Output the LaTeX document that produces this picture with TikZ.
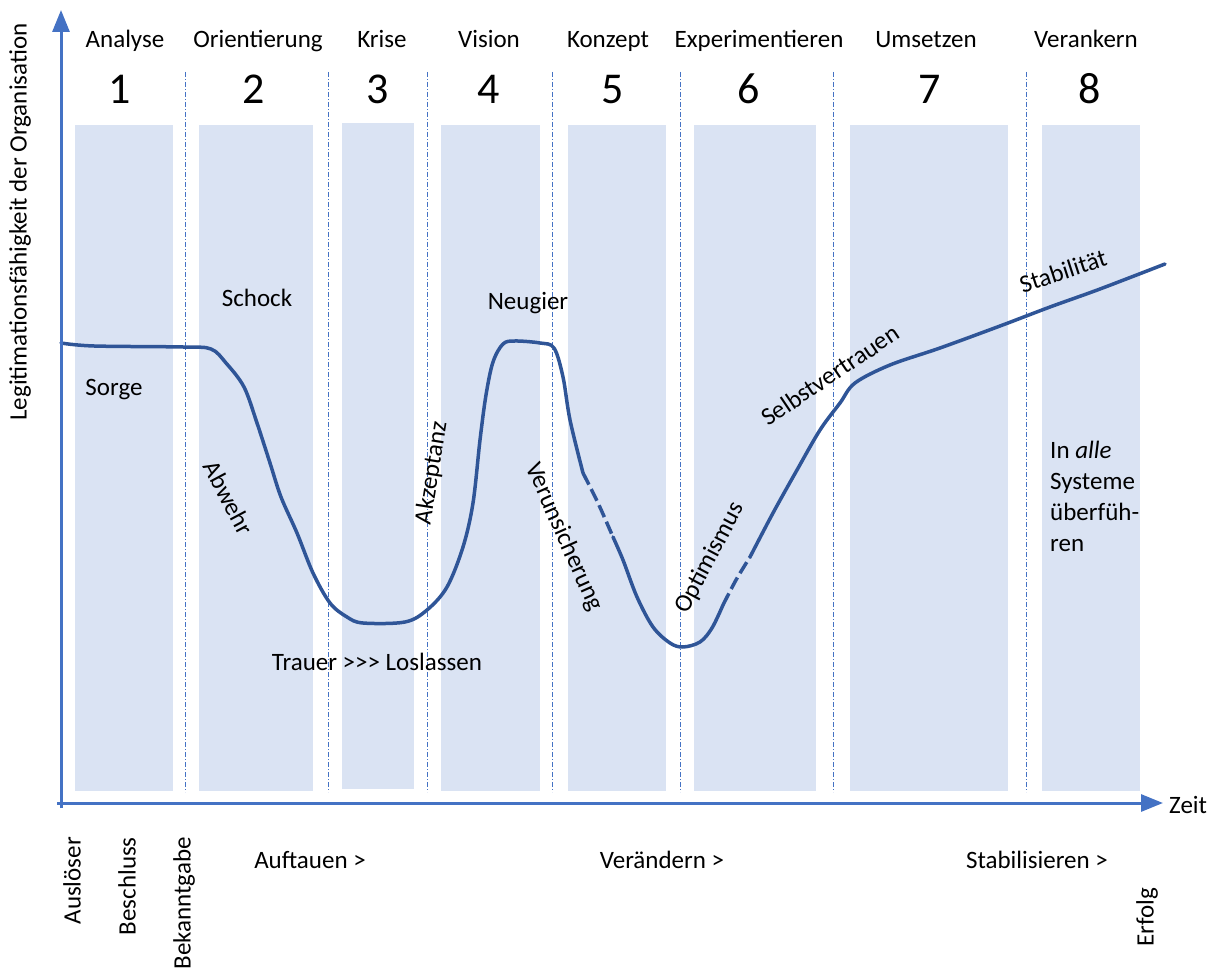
\documentclass[tikz,border=0pt]{standalone}
\usepackage{fontspec}
\setmainfont{Carlito}
\usetikzlibrary{arrows.meta}
\definecolor{barfill}{HTML}{DAE3F3}
\definecolor{axisblue}{HTML}{4472C4}
\definecolor{curveblue}{HTML}{2F5597}
\begin{document}
\begin{tikzpicture}[x=1pt,y=-1pt,
  lbl/.style={inner sep=0pt, font=\fontsize{25}{30}\selectfont, text=black},
  num/.style={inner sep=0pt, font=\fontsize{44}{50}\selectfont, text=black},
  phasebar/.style={fill=barfill, draw=none},
  sep/.style={axisblue, line width=0.9pt, dash pattern=on 5pt off 2pt on 1pt off 2pt},
  axisline/.style={axisblue, line width=3pt, -{Triangle[length=22pt,width=17pt]}},
  curve/.style={curveblue, line width=3.5pt, line cap=round, line join=round},
  dashedcurve/.style={curveblue, line width=3.5pt, dash pattern=on 13pt off 5pt}]
\useasboundingbox (0,0) rectangle (1221,973);

% phase columns
\fill[phasebar] (75,125) rectangle (173,791);
\fill[phasebar] (199,125) rectangle (313,791);
\fill[phasebar] (342,123) rectangle (414,789);
\fill[phasebar] (441,125) rectangle (540,791);
\fill[phasebar] (568,125) rectangle (666,791);
\fill[phasebar] (694,125) rectangle (816,791);
\fill[phasebar] (850,125) rectangle (1008,791);
\fill[phasebar] (1042,125) rectangle (1140,791);

% phase separators
\foreach \sx in {185,328,427,552,680,833,1026}
  \draw[sep] (\sx,72) -- (\sx,792);

% legitimation curve
\draw[curve] plot[smooth, tension=0.55] coordinates {
  (61,343) (94,346) (183,347) (211,349) (226,363) (244,387) (257,423)
  (270,463) (281,497) (297,533) (313,573) (330,603) (347,617) (363,623)
  (405,622) (427,610) (447,587) (463,547) (473,503) (480,440) (486,395)
  (493,362) (503,344) (515,341) (540,343) (554,348) (563,377) (570,420)
  (583,473)};
\draw[dashedcurve] plot[smooth, tension=0.55] coordinates {
  (583,473) (598,503) (613,537)};
\draw[curve] plot[smooth, tension=0.55] coordinates {
  (613,537) (623,560) (637,597) (653,627) (670,643) (683,647) (700,642)
  (712,628) (723,605)};
\draw[dashedcurve] plot[smooth, tension=0.55] coordinates {
  (723,605) (736,580) (750,557)};
\draw[curve] plot[smooth, tension=0.55] coordinates {
  (750,557) (773,513) (797,470) (820,430) (840,403) (855,383) (890,365)
  (940,348) (1000,326) (1050,307) (1100,289) (1165,264)};

% axes
\coordinate (yfoot) at (61,808);
\coordinate (ytip) at (61,10);
\coordinate (xfoot) at (57,803);
\coordinate (xtip) at (1163,803);
\draw[axisline] (yfoot) -- (ytip);
\draw[axisline] (xfoot) -- (xtip);

\node[lbl, anchor=base west] (zeit) at (1169,813) {Zeit};
\node[lbl, rotate=90] (ylab) at (20,222) {Legitimationsfähigkeit der Organisation};

% phase titles
\node[lbl, anchor=base] (h1) at (125,48) {Analyse};
\node[lbl, anchor=base] (h2) at (258,48) {Orientierung};
\node[lbl, anchor=base] (h3) at (382,48) {Krise};
\node[lbl, anchor=base] (h4) at (489,48) {Vision};
\node[lbl, anchor=base] (h5) at (608,48) {Konzept};
\node[lbl, anchor=base] (h6) at (759,48) {Experimentieren};
\node[lbl, anchor=base] (h7) at (926,48) {Umsetzen};
\node[lbl, anchor=base] (h8) at (1086,48) {Verankern};

% phase numbers
\node[num, anchor=base] (n1) at (120,104) {1};
\node[num, anchor=base] (n2) at (254,104) {2};
\node[num, anchor=base] (n3) at (378,104) {3};
\node[num, anchor=base] (n4) at (489,104) {4};
\node[num, anchor=base] (n5) at (613,104) {5};
\node[num, anchor=base] (n6) at (749,104) {6};
\node[num, anchor=base] (n7) at (930,104) {7};
\node[num, anchor=base] (n8) at (1090,104) {8};

% emotional states along the curve
\node[lbl, anchor=base] (schock) at (257,307) {Schock};
\node[lbl, anchor=base] (sorge) at (114,396) {Sorge};
\node[lbl, anchor=base] (neugier) at (528,310) {Neugier};
\node[lbl, rotate=-62] (abwehr) at (229,498) {Abwehr};
\node[lbl, rotate=81] (akzeptanz) at (432,473) {Akzeptanz};
\node[lbl, rotate=-66] (verunsicherung) at (564,537) {Verunsicherung};
\node[lbl, rotate=62] (optimismus) at (710,558) {Optimismus};
\node[lbl, rotate=34] (selbst) at (830,375) {Selbstvertrauen};
\node[lbl, rotate=18] (stab) at (1063,271) {Stabilität};
\node[lbl, anchor=base] (trauer) at (377,670) {Trauer >\kern0pt>\kern0pt> Loslassen};
\node[lbl, anchor=north west, align=left, font=\fontsize{25}{31}\selectfont] (systeme) at (1050,441)
  {In \textit{alle}\\Systeme\\überfüh-\\ren};

% milestones and stages below the time axis
\node[lbl, rotate=90, anchor=east] (ausloeser) at (72,837) {Auslöser};
\node[lbl, rotate=90, anchor=east] (beschluss) at (127,837) {Beschluss};
\node[lbl, rotate=90, anchor=east] (bekannt) at (184,837) {Bekanntgabe};
\node[lbl, rotate=90, anchor=east] (erfolg) at (1147,888) {Erfolg};
\node[lbl, anchor=base] (auftauen) at (310,868) {Auftauen >};
\node[lbl, anchor=base] (veraendern) at (662,868) {Verändern >};
\node[lbl, anchor=base] (stabil) at (1037,868) {Stabilisieren >};
\end{tikzpicture}
\end{document}
